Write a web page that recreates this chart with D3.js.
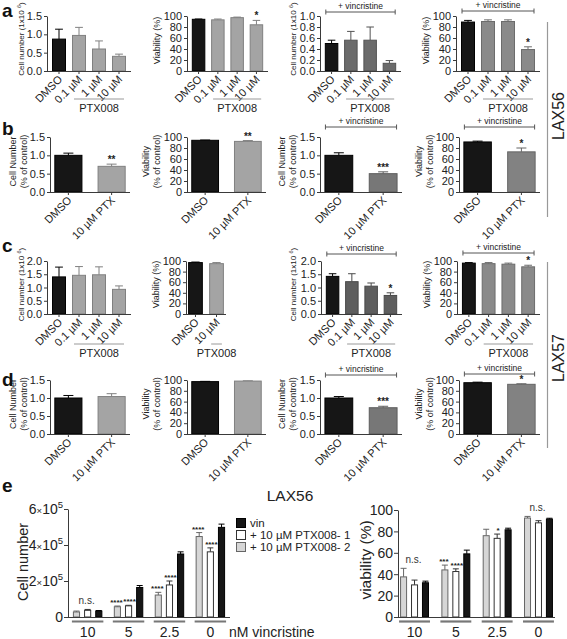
<!DOCTYPE html>
<html><head><meta charset="utf-8">
<script src="https://cdn.jsdelivr.net/npm/d3@7"></script>
<style>body{margin:0;background:#fff}svg{display:block}text{font-family:"Liberation Sans",Arial,Helvetica,sans-serif}</style>
</head><body><svg id="c" width="567" height="639"></svg>
<script>
// ---------------- DATA ----------------
const doseCats = ["DMSO", "0.1 µM", "1 µM", "10 µM"];
const twoCats = ["DMSO", "10 µM PTX"];
const c2Cats = ["DMSO", "10 µM"];

const a1Vals = [0.87, 0.97, 0.60, 0.40], a1Errs = [0.27, 0.22, 0.22, 0.06], a1Stars = ["", "", "", ""];
const a2Vals = [94, 93, 97, 84], a2Errs = [0.5, 1.5, 1, 8], a2Stars = ["", "", "", "*"];
const a3Vals = [0.50, 0.56, 0.56, 0.14], a3Errs = [0.06, 0.16, 0.24, 0.05], a3Stars = ["", "", "", ""];
const a4Vals = [89, 90, 90, 39], a4Errs = [3, 3, 3, 5], a4Stars = ["", "", "", "*"];

const b1Vals = [1.0, 0.70], b1Errs = [0.06, 0.06], b1Stars = ["", "**"];
const b2Vals = [94, 92], b2Errs = [0.5, 1.5], b2Stars = ["", "**"];
const b3Vals = [1.0, 0.50], b3Errs = [0.07, 0.05], b3Stars = ["", "***"];
const b4Vals = [91, 73], b4Errs = [1.5, 7], b4Stars = ["", "*"];

const c1Vals = [1.40, 1.46, 1.48, 0.93], c1Errs = [0.37, 0.33, 0.30, 0.13], c1Stars = ["", "", "", ""];
const c2Vals = [97, 95], c2Errs = [1, 2], c2Stars = ["", ""];
const c3Vals = [1.42, 1.22, 1.05, 0.70], c3Errs = [0.10, 0.30, 0.12, 0.10], c3Stars = ["", "", "", "*"];
const c4Vals = [96, 95, 94, 89], c4Errs = [1, 2, 2, 3], c4Stars = ["", "", "", "*"];

const d1Vals = [1.0, 1.04], d1Errs = [0.07, 0.08], d1Stars = ["", ""];
const d2Vals = [97, 98], d2Errs = [0.5, 0.5], d2Stars = ["", ""];
const d3Vals = [1.0, 0.73], d3Errs = [0.04, 0.04], d3Stars = ["", "***"];
const d4Vals = [95, 92], d4Errs = [1, 1], d4Stars = ["", "*"];

const eGroups = ["10", "5", "2.5", "0"];
const eSeries = ["PTX2", "PTX1", "vin"];               // bar order inside a group
const eLegend = ["vin", "+ 10 µM PTX008- 1", "+ 10 µM PTX008- 2"];
const eCellPTX2 = [28000, 57000, 122000, 447000], eCellPTX2Err = [5000, 4000, 15000, 22000];
const eCellPTX1 = [37000, 62000, 178000, 362000], eCellPTX1Err = [5000, 3000, 22000, 22000];
const eCellVin  = [33000, 164000, 350000, 498000], eCellVinErr = [3000, 11000, 12000, 18000];
const eCellStarsPTX2 = ["", "****", "****", "****"];
const eCellStarsPTX1 = ["", "****", "****", "****"];
const eCellGroupNote = ["n.s.", "", "", ""];
const eCellTicks = [0, 200000, 400000, 600000];
const eViaPTX2 = [37.5, 44, 76, 92.5], eViaPTX2Err = [8, 4.5, 6, 1.5];
const eViaPTX1 = [30, 42.5, 73.5, 88], eViaPTX1Err = [4.5, 2.5, 4, 2];
const eViaVin  = [32, 59, 81.5, 91.5], eViaVinErr = [1.5, 3.5, 1.5, 0.8];
const eViaStarsPTX2 = ["", "***", "", ""];
const eViaStarsPTX1 = ["", "****", "*", ""];
const eViaGroupNote = ["n.s.", "", "", "n.s."];
const eViaTicks = [0, 20, 40, 60, 80, 100];

// ---------------- DRAWING ----------------
const svg = d3.select("#c");
const BLACK = "#161616";
const AX = "#3a3a3a";

function yLabel(x, cy, lines, fs) {
  lines.forEach((ln, k) => {
    const t = svg.append("text").attr("transform", `translate(${x[k]},${cy}) rotate(-90)`)
      .attr("text-anchor", "middle").attr("font-size", fs).attr("fill", "#222");
    if (typeof ln === "string") t.text(ln);
    else ln.forEach(part => {
      const s = t.append("tspan").text(part.t);
      if (part.sup) s.attr("dy", -3.5).attr("font-size", fs * 0.7);
      if (part.down) s.attr("dy", 3.5);
    });
  });
}

function barPanel(L, D) {
  const y = d3.scaleLinear().domain([0, L.max]).range([L.bottom, L.top]);
  const x = d3.scaleBand().domain(D.cats).range([L.left, L.right]).paddingInner(L.pi).paddingOuter(L.po);
  const bw = x.bandwidth();
  const g = svg.append("g");
  const rows = D.cats.map((c, i) => ({c, v: D.vals[i], e: D.errs[i], s: D.stars[i], i}));
  const fillOf = d => d.i === 0 ? BLACK : L.color;
  const strokeOf = d => d.i === 0 ? "#000" : d3.color(L.color).darker(0.7).formatHex();
  g.selectAll(".eb").data(rows).join("path")
    .attr("d", d => { const cx = x(d.c) + bw / 2, y1 = y(d.v), y2 = y(d.v + d.e), w = Math.min(bw * 0.28, 5);
      return `M${cx},${y1}V${y2}M${cx - w},${y2}H${cx + w}`; })
    .attr("stroke", strokeOf).attr("fill", "none").attr("stroke-width", 1);
  g.selectAll(".bar").data(rows).join("rect")
    .attr("x", d => x(d.c) + 0.5).attr("y", d => y(d.v)).attr("width", bw - 1)
    .attr("height", d => L.bottom - y(d.v)).attr("fill", fillOf).attr("stroke", strokeOf).attr("stroke-width", 1);
  g.selectAll(".st").data(rows.filter(d => d.s)).join("text")
    .attr("x", d => x(d.c) + bw / 2).attr("y", d => y(d.v + d.e) - 1)
    .attr("text-anchor", "middle").attr("font-size", 10).attr("font-weight", "bold").attr("fill", "#222").text(d => d.s);
  const ya = g.append("g").attr("transform", `translate(${L.left},0)`)
    .call(d3.axisLeft(y).tickValues(d3.range(0, L.max + 1e-9, L.step)).tickSize(3).tickSizeOuter(0).tickPadding(2).tickFormat(d3.format(L.fmt)));
  ya.selectAll("path,line").attr("stroke", AX);
  ya.selectAll("text").attr("font-size", 11).attr("fill", "#222").style("font-family", "Liberation Sans, Arial, sans-serif");
  g.append("line").attr("x1", L.left).attr("x2", L.right).attr("y1", L.bottom + 0.5).attr("y2", L.bottom + 0.5).attr("stroke", AX);
  g.selectAll(".xt").data(rows).join("line")
    .attr("x1", d => x(d.c) + bw / 2).attr("x2", d => x(d.c) + bw / 2).attr("y1", L.bottom).attr("y2", L.bottom + 3).attr("stroke", AX);
  g.selectAll(".xl").data(rows).join("text")
    .attr("transform", d => `translate(${x(d.c) + bw / 2 + 4},${L.bottom + 9}) rotate(-45)`)
    .attr("text-anchor", "end").attr("font-size", 11).attr("fill", "#222").text(d => d.c);
  if (L.ptx) {
    const x1 = x(D.cats[L.ptx[0]]) + 2, x2 = x(D.cats[L.ptx[1]]) + bw - 2;
    g.append("line").attr("x1", x1).attr("x2", x2).attr("y1", L.ptxY).attr("y2", L.ptxY).attr("stroke", "#999").attr("stroke-width", 1);
    g.append("text").attr("x", (x1 + x2) / 2).attr("y", L.ptxY + 13).attr("text-anchor", "middle")
      .attr("font-size", 11).attr("fill", "#222").text("PTX008");
  }
  if (L.vincY) {
    const x1 = x(D.cats[0]) + 1, x2 = x(D.cats[D.cats.length - 1]) + bw - 1;
    g.append("path").attr("d", `M${x1},${L.vincY}H${x2}M${x1},${L.vincY - 2.5}v5M${x2},${L.vincY - 2.5}v5`)
      .attr("stroke", "#555").attr("fill", "none");
    g.append("text").attr("x", (x1 + x2) / 2).attr("y", L.vincY - 3.5).attr("text-anchor", "middle")
      .attr("font-size", 8.5).attr("fill", "#222").text("+ vincristine");
  }
  yLabel(L.ylX, L.ylY || (L.top + L.bottom) / 2 - 3, L.ylab, L.ylFs || 9);
}

const cellLab = [[{t: "Cell number (1x10 "}, {t: "6", sup: true}, {t: ")", down: true}]];
const pctCell = ["Cell Number", "(% of control)"];
const pctVia = ["Viability", "(% of control)"];
const GRAY = "#a4a4a4", DARK = "#6b6b6b", MID = "#8a8a8a";
const four = {pi: 0.3, po: 0.25}, two = {pi: 0.35, po: 0.1};

// row a
const ra = {top: 16, bottom: 71};
barPanel({...ra, ...four, left: 47, right: 131, max: 1.5, step: 0.5, fmt: ".1f", color: GRAY, ylab: cellLab, ylX: [24], ylY: 39, ylFs: 8, ptx: [1, 3], ptxY: 99},
  {cats: doseCats, vals: a1Vals, errs: a1Errs, stars: a1Stars});
barPanel({...ra, ...four, left: 187, right: 268, max: 100, step: 20, fmt: "d", color: GRAY, ylab: ["Viability (%)"], ylX: [160], ptx: [1, 3], ptxY: 99},
  {cats: doseCats, vals: a2Vals, errs: a2Errs, stars: a2Stars});
barPanel({...ra, ...four, left: 320, right: 401, max: 1.0, step: 0.2, fmt: ".1f", color: DARK, ylab: cellLab, ylX: [296], ylY: 39, ylFs: 8, ptx: [1, 3], ptxY: 99, vincY: 12},
  {cats: doseCats, vals: a3Vals, errs: a3Errs, stars: a3Stars});
barPanel({...ra, ...four, left: 456, right: 540, max: 100, step: 20, fmt: "d", color: MID, ylab: ["Viability (%)"], ylX: [429], ptx: [1, 3], ptxY: 99, vincY: 11},
  {cats: doseCats, vals: a4Vals, errs: a4Errs, stars: a4Stars});

// row b
const rb = {top: 137, bottom: 192};
barPanel({...rb, ...two, left: 50, right: 130, max: 1.5, step: 0.5, fmt: ".1f", color: GRAY, ylab: pctCell, ylX: [16, 27]},
  {cats: twoCats, vals: b1Vals, errs: b1Errs, stars: b1Stars});
barPanel({...rb, ...two, left: 187, right: 266, max: 100, step: 20, fmt: "d", color: GRAY, ylab: pctVia, ylX: [149, 160]},
  {cats: twoCats, vals: b2Vals, errs: b2Errs, stars: b2Stars});
barPanel({...rb, ...two, left: 320, right: 402, max: 1.5, step: 0.5, fmt: ".1f", color: "#777", ylab: pctCell, ylX: [285, 296], vincY: 127},
  {cats: twoCats, vals: b3Vals, errs: b3Errs, stars: b3Stars});
barPanel({...rb, ...two, left: 459, right: 540, max: 100, step: 20, fmt: "d", color: "#828282", ylab: pctVia, ylX: [422, 433], vincY: 127},
  {cats: twoCats, vals: b4Vals, errs: b4Errs, stars: b4Stars});

// row c
const rc = {top: 261, bottom: 314};
barPanel({...rc, ...four, left: 47, right: 131, max: 2.0, step: 0.5, fmt: ".1f", color: GRAY, ylab: cellLab, ylX: [24], ylFs: 8, ptx: [1, 3], ptxY: 344},
  {cats: doseCats, vals: c1Vals, errs: c1Errs, stars: c1Stars});
barPanel({...rc, pi: 0.3, po: 0.1, left: 186, right: 226, max: 100, step: 20, fmt: "d", color: GRAY, ylab: ["Viability (%)"], ylX: [159], ptx: [1, 1], ptxY: 344},
  {cats: c2Cats, vals: c2Vals, errs: c2Errs, stars: c2Stars});
barPanel({...rc, ...four, left: 321, right: 402, max: 2.0, step: 0.5, fmt: ".1f", color: "#5e5e5e", ylab: cellLab, ylX: [296], ylFs: 8, ptx: [1, 3], ptxY: 344, vincY: 254},
  {cats: doseCats, vals: c3Vals, errs: c3Errs, stars: c3Stars});
barPanel({...rc, ...four, left: 457, right: 540, max: 100, step: 20, fmt: "d", color: MID, ylab: ["Viability (%)"], ylX: [430], ptx: [1, 3], ptxY: 344, vincY: 253},
  {cats: doseCats, vals: c4Vals, errs: c4Errs, stars: c4Stars});

// row d
const rd = {top: 380, bottom: 434};
barPanel({...rd, ...two, left: 50, right: 130, max: 1.5, step: 0.5, fmt: ".1f", color: GRAY, ylab: pctCell, ylX: [16, 27]},
  {cats: twoCats, vals: d1Vals, errs: d1Errs, stars: d1Stars});
barPanel({...rd, ...two, left: 187, right: 266, max: 100, step: 20, fmt: "d", color: GRAY, ylab: pctVia, ylX: [149, 160]},
  {cats: twoCats, vals: d2Vals, errs: d2Errs, stars: d2Stars});
barPanel({...rd, ...two, left: 320, right: 402, max: 1.5, step: 0.5, fmt: ".1f", color: "#777", ylab: pctCell, ylX: [285, 296], vincY: 375},
  {cats: twoCats, vals: d3Vals, errs: d3Errs, stars: d3Stars});
barPanel({...rd, ...two, left: 459, right: 540, max: 100, step: 20, fmt: "d", color: "#828282", ylab: pctVia, ylX: [422, 433], vincY: 374},
  {cats: twoCats, vals: d4Vals, errs: d4Errs, stars: d4Stars});

// panel letters
[["a", 17], ["b", 135], ["c", 252], ["d", 386], ["e", 492]].forEach(([l, yy]) =>
  svg.append("text").attr("x", 2).attr("y", yy).attr("font-size", 19).attr("font-weight", "bold").attr("fill", "#111").text(l));

// cell line brackets
[["LAX56", 22, 217, 116], ["LAX57", 262, 448, 358]].forEach(([t, y1, y2, cy]) => {
  svg.append("line").attr("x1", 547.5).attr("x2", 547.5).attr("y1", y1).attr("y2", y2).attr("stroke", "#999").attr("stroke-width", 1.2);
  svg.append("text").attr("transform", `translate(564,${cy}) rotate(-90)`).attr("text-anchor", "middle")
    .attr("font-size", 16).attr("fill", "#222").text(t);
});

// ---------------- panel e ----------------
const eColors = {PTX2: "#d6d6d6", PTX1: "#ffffff", vin: BLACK};
const eStroke = {PTX2: "#666", PTX1: "#333", vin: "#000"};

function groupPanel(L, D) {
  const y = d3.scaleLinear().domain([0, L.max]).range([L.bottom, L.top]);
  const x0 = d3.scaleBand().domain(eGroups).range([L.left, L.right]).paddingInner(L.pi).paddingOuter(L.po);
  const x1 = d3.scaleBand().domain(eSeries).range([0, x0.bandwidth()]).paddingInner(0.36);
  const bw = x1.bandwidth();
  const g = svg.append("g");
  const rows = [];
  eGroups.forEach((gr, gi) => eSeries.forEach(s => rows.push({gr, gi, s, v: D.vals[s][gi], e: D.errs[s][gi], st: (D.stars[s] || [])[gi] || ""})));
  const cx = d => x0(d.gr) + x1(d.s) + bw / 2;
  g.selectAll(".eb").data(rows).join("path")
    .attr("d", d => `M${cx(d)},${y(d.v)}V${y(d.v + d.e)}M${cx(d) - 3},${y(d.v + d.e)}H${cx(d) + 3}`)
    .attr("stroke", d => eStroke[d.s]).attr("fill", "none");
  g.selectAll(".bar").data(rows).join("rect")
    .attr("x", d => x0(d.gr) + x1(d.s) + 0.5).attr("y", d => y(d.v)).attr("width", bw - 1).attr("height", d => L.bottom - y(d.v))
    .attr("fill", d => eColors[d.s]).attr("stroke", d => eStroke[d.s]);
  g.selectAll(".st").data(rows.filter(d => d.st)).join("text")
    .attr("x", d => cx(d) + (d.s === "PTX1" ? 1 : -1)).attr("y", d => y(d.v + d.e) - 1)
    .attr("text-anchor", "middle").attr("font-size", 8).attr("font-weight", "bold").attr("fill", "#222").text(d => d.st);
  g.selectAll(".ns").data(eGroups.map((gr, gi) => ({gr, gi, t: D.note[gi]})).filter(d => d.t)).join("text")
    .attr("x", d => x0(d.gr) + x0.bandwidth() / 2 - 1)
    .attr("y", d => y(d3.max(eSeries, s => D.vals[s][d.gi] + D.errs[s][d.gi])) - 5)
    .attr("text-anchor", "middle").attr("font-size", 10).attr("fill", "#333").text(d => d.t);
  const ya = g.append("g").attr("transform", `translate(${L.left},0)`)
    .call(d3.axisLeft(y).tickValues(L.ticks).tickSize(4).tickSizeOuter(0).tickPadding(2).tickFormat(""));
  ya.selectAll("path,line").attr("stroke", AX);
  ya.selectAll(".tick").each(function (d) {
    const t = d3.select(this).append("text").attr("x", -5).attr("dy", "0.35em").attr("text-anchor", "end")
      .attr("font-size", 14).attr("fill", "#222");
    if (L.sci && d !== 0) {
      t.append("tspan").text(String(d / 100000 | 0));
      t.append("tspan").attr("font-size", 9.5).text("×");
      t.append("tspan").text("10");
      t.append("tspan").attr("font-size", 9.5).attr("dy", -6).text("5");
    } else t.text(d);
  });
  g.append("line").attr("x1", L.left).attr("x2", L.right).attr("y1", L.bottom + 0.5).attr("y2", L.bottom + 0.5).attr("stroke", AX);
  eGroups.forEach(gr => {
    g.append("line").attr("x1", x0(gr) - 1).attr("x2", x0(gr) + x0.bandwidth() + 1).attr("y1", L.bottom + 4.5).attr("y2", L.bottom + 4.5)
      .attr("stroke", "#777").attr("stroke-width", 2.2);
    g.append("text").attr("x", x0(gr) + x0.bandwidth() / 2).attr("y", L.bottom + 20).attr("text-anchor", "middle")
      .attr("font-size", 14).attr("fill", "#222").text(gr);
  });
  svg.append("text").attr("transform", `translate(${L.ylX},${L.ylY}) rotate(-90)`).attr("text-anchor", "middle")
    .attr("font-size", L.ylFs).attr("fill", "#222").text(L.ylab);
}

groupPanel({left: 68, right: 230, top: 509, bottom: 617, max: 600000, ticks: eCellTicks, pi: 0.28, po: 0.12, sci: true, ylab: "Cell number", ylX: 28, ylY: 562, ylFs: 14.5},
  {vals: {PTX2: eCellPTX2, PTX1: eCellPTX1, vin: eCellVin}, errs: {PTX2: eCellPTX2Err, PTX1: eCellPTX1Err, vin: eCellVinErr},
   stars: {PTX2: eCellStarsPTX2, PTX1: eCellStarsPTX1}, note: eCellGroupNote});
groupPanel({left: 398, right: 555, top: 510, bottom: 617, max: 100, ticks: eViaTicks, pi: 0.3, po: 0.05, ylab: "viability (%)", ylX: 371, ylY: 560, ylFs: 15.5},
  {vals: {PTX2: eViaPTX2, PTX1: eViaPTX1, vin: eViaVin}, errs: {PTX2: eViaPTX2Err, PTX1: eViaPTX1Err, vin: eViaVinErr},
   stars: {PTX2: eViaStarsPTX2, PTX1: eViaStarsPTX1}, note: eViaGroupNote});

svg.append("text").attr("x", 229).attr("y", 637).attr("font-size", 14).attr("fill", "#222").text("nM vincristine");
svg.append("text").attr("x", 290).attr("y", 501).attr("text-anchor", "middle").attr("font-size", 15.5).attr("fill", "#222").text("LAX56");

// legend
const legKeys = ["vin", "PTX1", "PTX2"];
legKeys.forEach((k, i) => {
  svg.append("rect").attr("x", 236.5).attr("y", 518.5 + i * 12).attr("width", 9).attr("height", 9)
    .attr("fill", eColors[k]).attr("stroke", eStroke[k]);
  svg.append("text").attr("x", 250).attr("y", 527 + i * 12).attr("font-size", 11.5).attr("fill", "#222").text(eLegend[i]);
});
</script></body></html>
